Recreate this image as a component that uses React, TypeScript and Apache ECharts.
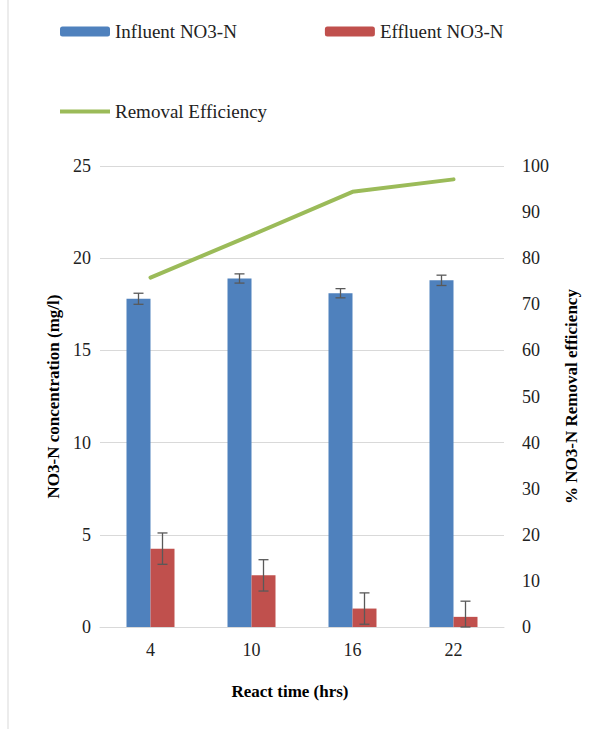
import React, { useEffect, useRef } from "react";
import * as echarts from "echarts";

const categories = ["4", "10", "16", "22"];
const influent = [17.8, 18.9, 18.1, 18.8];
const influentErr = [0.3, 0.25, 0.25, 0.28];
const effluent = [4.25, 2.8, 1.0, 0.55];
const effluentErr = [0.85, 0.85, 0.85, 0.85];
const removal = [75.8, 85.0, 94.4, 97.1];

const F = "'Liberation Serif', 'Times New Roman', serif";

function errSeries(vals: number[], errs: number[], offset: number) {
  return {
    type: "custom",
    yAxisIndex: 0,
    z: 10,
    data: vals.map((v, i) => [i, v, errs[i]]),
    renderItem: (params: any, api: any) => {
      const i = api.value(0), v = api.value(1), e = api.value(2);
      const top = api.coord([i, v + e]);
      const bot = api.coord([i, Math.max(0, v - e)]);
      const x = top[0] + offset;
      const s = { stroke: "#595959", lineWidth: 1.3 };
      return {
        type: "group",
        children: [
          { type: "line", shape: { x1: x, y1: top[1], x2: x, y2: bot[1] }, style: s },
          { type: "line", shape: { x1: x - 5, y1: top[1], x2: x + 5, y2: top[1] }, style: s },
          { type: "line", shape: { x1: x - 5, y1: bot[1], x2: x + 5, y2: bot[1] }, style: s },
        ],
      };
    },
  };
}

export default function App() {
  const ref = useRef<HTMLDivElement>(null);
  useEffect(() => {
    const chart = echarts.init(ref.current!, null, { renderer: "svg" });
    const lbl = { fontFamily: F, fontSize: 18, color: "#222" };
    const ttl = { fontFamily: F, fontSize: 17, fontWeight: "bold", color: "#000" };
    chart.setOption({
      animation: false,
      textStyle: { fontFamily: F },
      legend: [
        {
          data: ["Influent NO3-N", "Effluent NO3-N"],
          left: 55, top: 17, itemWidth: 50, itemHeight: 10, itemGap: 88,
          textStyle: { ...lbl, fontSize: 19 },
        },
        {
          data: [{ name: "Removal Efficiency", icon: "rect" }],
          left: 55, top: 97, itemWidth: 50, itemHeight: 4,
          textStyle: { ...lbl, fontSize: 19 },
        },
      ],
      grid: { left: 100, right: 90, top: 166, bottom: 102 },
      xAxis: {
        type: "category", data: categories,
        axisLine: { lineStyle: { color: "#d9d9d9" } },
        axisTick: { show: false },
        axisLabel: { ...lbl, margin: 14 },
        name: "React time (hrs)", nameLocation: "middle", nameGap: 56,
        nameTextStyle: { ...ttl, padding: [0, 24, 0, 0] },
      },
      yAxis: [
        {
          type: "value", min: 0, max: 25, interval: 5,
          splitLine: { show: true, lineStyle: { color: "#d9d9d9" } }, axisLine: { show: false }, axisTick: { show: false },
          axisLabel: { ...lbl, margin: 9 },
          name: "NO3-N concentration (mg/l)", nameLocation: "middle", nameGap: 1,
          nameTextStyle: { ...ttl, padding: [0, 0, -18, 0] },
        },
        {
          type: "value", min: 0, max: 100, interval: 10,
          splitLine: { show: false }, axisLine: { show: false }, axisTick: { show: false },
          axisLabel: { ...lbl, margin: 18 },
          name: "% NO3-N Removal efficiency", nameLocation: "middle", nameGap: 59,
          nameTextStyle: ttl,
        },
      ],
      series: [
        { name: "Influent NO3-N", type: "bar", data: influent, barWidth: 24, barGap: "0%", itemStyle: { color: "#4f81bd" } },
        { name: "Effluent NO3-N", type: "bar", data: effluent, barWidth: 24, itemStyle: { color: "#c0504d" } },
        errSeries(influent, influentErr, -12),
        errSeries(effluent, effluentErr, 12),
        {
          name: "Removal Efficiency", type: "line", yAxisIndex: 1, data: removal,
          symbol: "none", lineStyle: { color: "#9bbb59", width: 4, cap: "round" }, itemStyle: { color: "#9bbb59" }, z: 5,
        },
      ],
      graphic: [
        { type: "line", shape: { x1: 8, y1: 0, x2: 8, y2: 729 }, style: { stroke: "#d9d9d9", lineWidth: 1 } },
      ],
    });
    return () => chart.dispose();
  }, []);
  return <div ref={ref} style={{ position: "fixed", left: 0, top: 0, width: 594, height: 729, background: "#fff" }} />;
}
